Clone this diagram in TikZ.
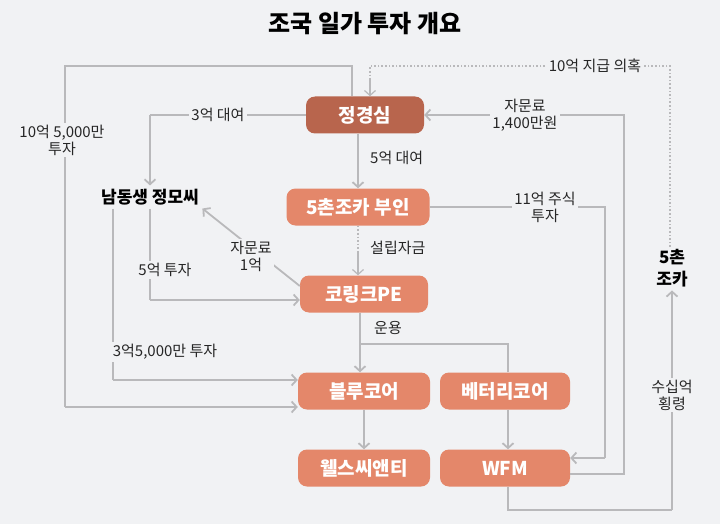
\documentclass[tikz,border=0pt]{standalone}
\usepackage{fontspec}
\setmainfont{Noto Sans CJK KR}
\usetikzlibrary{arrows.meta}
\definecolor{bg}{HTML}{F1F2F4}
\definecolor{ln}{HTML}{B9B9BB}
\definecolor{dk}{HTML}{B8654D}
\definecolor{og}{HTML}{E4876A}
\begin{document}
\begin{tikzpicture}[x=1pt,y=-1pt,
  box/.style={rounded corners=9pt,fill=og,text=white,font=\bfseries\fontsize{19}{19}\selectfont,minimum height=37pt,inner xsep=4pt},
  lab/.style={fill=bg,inner sep=2pt,font=\fontsize{15}{17}\selectfont,align=center,text=black!85},
  ed/.style={draw=ln,line width=1.8pt,-{Straight Barb[length=5pt,width=11pt]}},
  pl/.style={draw=ln,line width=1.8pt},
  dt/.style={draw=ln,line width=1.6pt,dotted}]
\fill[bg] (0,0) rectangle (720,524);
\node[font=\bfseries\fontsize{24}{24}\selectfont] (title) at (365,24) {조국 일가 투자 개요};
\node[box,fill=dk,minimum width=118pt] (jks) at (365,115) {정경심};
\node[box,minimum width=143pt] (wife) at (358,207) {5촌조카 부인};
\node[box,minimum width=128pt] (pe) at (364,294) {코링크PE};
\node[box,minimum width=132pt] (blue) at (364,391) {블루코어};
\node[box,minimum width=130pt] (bat) at (505,391) {베터리코어};
\node[box,minimum width=132pt] (wel) at (364,468) {웰스씨앤티};
\node[box,minimum width=130pt] (wfm) at (505,468) {WFM};
\node[font=\bfseries\fontsize{17}{17}\selectfont] (bro) at (150,197) {남동생 정모씨};
\node[font=\bfseries\fontsize{17}{22}\selectfont,align=center] (cho) at (672,268) {5촌\\조카};
\coordinate (c1) at (352,66);
\coordinate (c2) at (65,66);
\coordinate (c3) at (65,407);
\draw[pl] (jks.north -| c1) -- (c1) -- (c2) -- (c3);
\draw[ed] (c3) -- (c3 -| blue.west);
\node[lab] (l1) at (62,140) {10억 5,000만\\투자};
\coordinate (d1) at (670,247);
\coordinate (d2) at (670,66);
\coordinate (d3) at (370,66);
\draw[dt] (d1) -- (d2) -- (d3) -- (370,80);
\draw[ed,line width=1.2pt] (370,78) -- (jks.north -| d3);
\node[lab] (l2) at (595,66) {10억 지급 의혹};
\coordinate (e1) at (150,115);
\draw[pl] (jks.west) -- (e1);
\draw[ed] (e1) -- (bro.north -| e1);
\node[lab] (l3) at (218,115) {3억 대여};
\draw[ed] (jks.south -| wife) -- (wife.north);
\node[lab,anchor=west] (l4) at (368,158) {5억 대여};
\draw[dt] (wife.south) -- (358,258);
\draw[ed,line width=1.2pt] (358,252) -- (pe.north -| wife);
\node[lab,anchor=west] (l5) at (368,248) {설립자금};
\coordinate (g1) at (624,474);
\coordinate (g2) at (624,115);
\draw[pl] (wfm.east |- g1) -- (g1) -- (g2) -- (560,115);
\draw[ed] (490,115) -- (jks.east);
\node[lab] (l6) at (525,115) {자문료\\1,400만원};
\coordinate (h1) at (605,207);
\coordinate (h2) at (605,458);
\draw[pl] (wife.east) -- (h1) -- (h2);
\draw[ed] (h2) -- (wfm.east |- h2);
\node[lab] (l7) at (545,207) {11억 주식\\투자};
\draw[ed] (pe.west |- 0,286) -- (bro.south east) ;
\node[lab] (l8) at (251,256) {자문료\\1억};
\coordinate (k1) at (150,300);
\draw[pl] (bro.south -| k1) -- (k1);
\draw[ed] (k1) -- (pe.west |- k1);
\node[lab] (l9) at (165,270) {5억 투자};
\coordinate (m1) at (113,380);
\draw[pl] (bro.south -| m1) -- (m1);
\draw[ed] (m1) -- (blue.west |- m1);
\node[lab] (l10) at (165,352) {3억5,000만 투자};
\draw[ed] (pe.south -| 360,0) -- (blue.north -| 360,0);
\coordinate (n1) at (508,344);
\draw[pl] (bat.north -| n1) -- (n1) -- (360,344);
\node[lab,anchor=west] (l11) at (372,328) {운용};
\draw[ed] (blue.south -| 364,0) -- (wel.north);
\draw[ed] (bat.south -| 508,0) -- (wfm.north -| 508,0);
\coordinate (p1) at (508,510);
\coordinate (p2) at (672,510);
\draw[pl] (wfm.south -| p1) -- (p1) -- (p2);
\draw[ed] (p2) -- (cho.south);
\node[lab] (l12) at (672,395) {수십억\\횡령};
\end{tikzpicture}
\end{document}
